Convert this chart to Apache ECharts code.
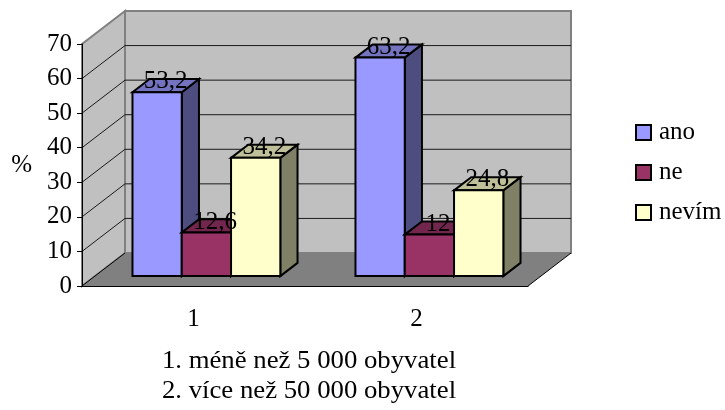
<!DOCTYPE html>
<html>
<head>
<meta charset="utf-8">
<script src="https://cdn.jsdelivr.net/npm/echarts@6/dist/echarts.min.js"></script>
<style>
html, body { margin: 0; padding: 0; background: #fff; }
#chart { width: 725px; height: 410px; }
</style>
</head>
<body>
<div id="chart"></div>
<script>
// Answers by settlement size, in percent
const categories = ['1', '2'];
const seriesNames = ['ano', 'ne', 'nevím'];
const anoValues = [53.2, 63.2];
const neValues = [12.6, 12];
const nevimValues = [34.2, 24.8];
const yTicks = [0, 10, 20, 30, 40, 50, 60, 70];
const captionLines = ['1. méně než 5 000 obyvatel', '2. více než 50 000 obyvatel'];

const FONT_FAMILY = '"Liberation Serif", "Times New Roman", serif';
const FONT_SIZE = 25;

// Depth of the 3D plot box in pixels (front edge of the floor -> back wall)
const DEPTH_X = 43;
const DEPTH_Y = -33;
const BAR_FRONT = 0.3;   // bars start 30% into the depth
const BAR_DEPTH = 0.4;   // and occupy 40% of it
const BAR_SHARE = 0.221; // width of one bar relative to the category band

const faceColors = [
  { front: '#9999ff', top: '#7373bf', side: '#4d4d80' },
  { front: '#993366', top: '#73264d', side: '#4d1a33' },
  { front: '#ffffcc', top: '#bfbf99', side: '#808066' }
];
const seriesValues = [anoValues, neValues, nevimValues];

// Walls, floor and gridlines of the 3D box
function renderFrame(params, api) {
  const cs = params.coordSys;
  const x0 = cs.x;
  const x1 = cs.x + cs.width;
  const yBase = api.coord([0, yTicks[0]])[1];
  const yTop = api.coord([0, yTicks[yTicks.length - 1]])[1];
  const children = [];
  children.push({
    type: 'rect',
    shape: { x: x0 + DEPTH_X, y: yTop + DEPTH_Y, width: cs.width, height: yBase - yTop },
    style: { fill: '#c0c0c0', stroke: '#808080', lineWidth: 2 }
  });
  children.push({
    type: 'polygon',
    shape: { points: [[x0, yBase], [x0, yTop], [x0 + DEPTH_X, yTop + DEPTH_Y], [x0 + DEPTH_X, yBase + DEPTH_Y]] },
    style: { fill: '#c0c0c0', stroke: '#808080', lineWidth: 2 }
  });
  yTicks.slice(1, -1).forEach(function (v) {
    const y = api.coord([0, v])[1];
    children.push({
      type: 'polyline',
      shape: { points: [[x0, y], [x0 + DEPTH_X, y + DEPTH_Y], [x1 + DEPTH_X, y + DEPTH_Y]] },
      style: { stroke: '#1a1a1a', lineWidth: 1, fill: null }
    });
  });
  children.push({
    type: 'polygon',
    shape: { points: [[x0, yBase], [x0 + DEPTH_X, yBase + DEPTH_Y], [x1 + DEPTH_X, yBase + DEPTH_Y], [x1, yBase]] },
    style: { fill: '#808080' }
  });
  children.push({
    type: 'line',
    shape: { x1: x0, y1: yBase, x2: x0 + DEPTH_X, y2: yBase + DEPTH_Y },
    style: { stroke: '#000', lineWidth: 1 }
  });
  children.push({
    type: 'line',
    shape: { x1: x1, y1: yBase, x2: x1 + DEPTH_X, y2: yBase + DEPTH_Y },
    style: { stroke: '#000', lineWidth: 1 }
  });
  return { type: 'group', children: children };
}

// One 3D bar (front, top and right faces) with its value label
function makeBarRenderer(si) {
  const col = faceColors[si];
  return function (params, api) {
    const c = api.value(0);
    const v = api.value(1);
    const base = api.coord([c, 0]);
    const tip = api.coord([c, v]);
    const band = api.size([1, 0])[0];
    const w = band * BAR_SHARE;
    const ox = BAR_FRONT * DEPTH_X, oy = BAR_FRONT * DEPTH_Y;
    const dx = BAR_DEPTH * DEPTH_X, dy = BAR_DEPTH * DEPTH_Y;
    const left = base[0] + ox - 1.5 * w + si * w;
    const right = left + w;
    const bottom = base[1] + oy;
    const top = tip[1] + oy;
    const stroke = { stroke: '#000', lineWidth: 2, lineJoin: 'miter' };
    return {
      type: 'group',
      children: [
        {
          type: 'polygon', z2: si + 1,
          shape: { points: [[right, top], [right + dx, top + dy], [right + dx, bottom + dy], [right, bottom]] },
          style: Object.assign({ fill: col.side }, stroke)
        },
        {
          type: 'polygon', z2: si + 1,
          shape: { points: [[left, top], [left + dx, top + dy], [right + dx, top + dy], [right, top]] },
          style: Object.assign({ fill: col.top }, stroke)
        },
        {
          type: 'rect', z2: si + 1,
          shape: { x: left, y: top, width: w, height: bottom - top },
          style: Object.assign({ fill: col.front }, stroke)
        },
        {
          type: 'text', z2: 20,
          x: left + w / 2 + dx / 2,
          y: top + dy / 2 - 4,
          style: {
            text: String(v).replace('.', ','),
            fill: '#000',
            font: FONT_SIZE + 'px ' + FONT_FAMILY,
            textAlign: 'center',
            textVerticalAlign: 'middle'
          }
        }
      ]
    };
  };
}

const chart = echarts.init(document.getElementById('chart'), null, { renderer: 'canvas' });

chart.setOption({
  animation: false,
  backgroundColor: '#fff',
  grid: { left: 82, top: 44, width: 446, height: 242 },
  xAxis: {
    type: 'category',
    data: categories,
    axisLine: { lineStyle: { color: '#000', width: 1 } },
    axisTick: { length: 5, lineStyle: { color: '#000' } },
    axisLabel: { color: '#000', fontFamily: FONT_FAMILY, fontSize: FONT_SIZE, margin: 21 },
    splitLine: { show: false }
  },
  yAxis: {
    type: 'value',
    min: 0,
    max: 70,
    interval: 10,
    name: '%',
    nameLocation: 'middle',
    nameRotate: 0,
    nameGap: 50,
    nameTextStyle: { color: '#000', fontFamily: FONT_FAMILY, fontSize: FONT_SIZE },
    axisLine: { show: true, lineStyle: { color: '#000', width: 1 } },
    axisTick: { show: true, length: 5, lineStyle: { color: '#000' } },
    axisLabel: { color: '#000', fontFamily: FONT_FAMILY, fontSize: FONT_SIZE, margin: 10 },
    splitLine: { show: false }
  },
  legend: {
    orient: 'vertical',
    left: 635,
    top: 120,
    padding: 0,
    itemWidth: 15,
    itemHeight: 15,
    itemGap: 15,
    icon: 'rect',
    selectedMode: false,
    data: seriesNames.map(function (n, i) {
      return { name: n, itemStyle: { color: faceColors[i].front, borderColor: '#000', borderWidth: 2 } };
    }),
    textStyle: { color: '#000', fontFamily: FONT_FAMILY, fontSize: FONT_SIZE, padding: [0, 0, 0, 3] }
  },
  graphic: captionLines.map(function (t, i) {
    return {
      type: 'text',
      x: 309,
      y: 361 + i * 30,
      scaleX: 1.07,
      style: {
        text: t,
        fill: '#000',
        font: FONT_SIZE + 'px ' + FONT_FAMILY,
        textAlign: 'center',
        textVerticalAlign: 'middle'
      }
    };
  }),
  series: [
    {
      type: 'custom',
      name: 'frame',
      z: -1,
      silent: true,
      renderItem: renderFrame,
      data: [[0, 0]],
      encode: { x: 0, y: 1 }
    }
  ].concat(seriesValues.map(function (vals, si) {
    return {
      type: 'custom',
      name: seriesNames[si],
      renderItem: makeBarRenderer(si),
      itemStyle: { color: faceColors[si].front, borderColor: '#000', borderWidth: 2 },
      data: vals.map(function (v, i) { return [i, v]; }),
      encode: { x: 0, y: 1 }
    };
  }))
});
</script>
</body>
</html>
